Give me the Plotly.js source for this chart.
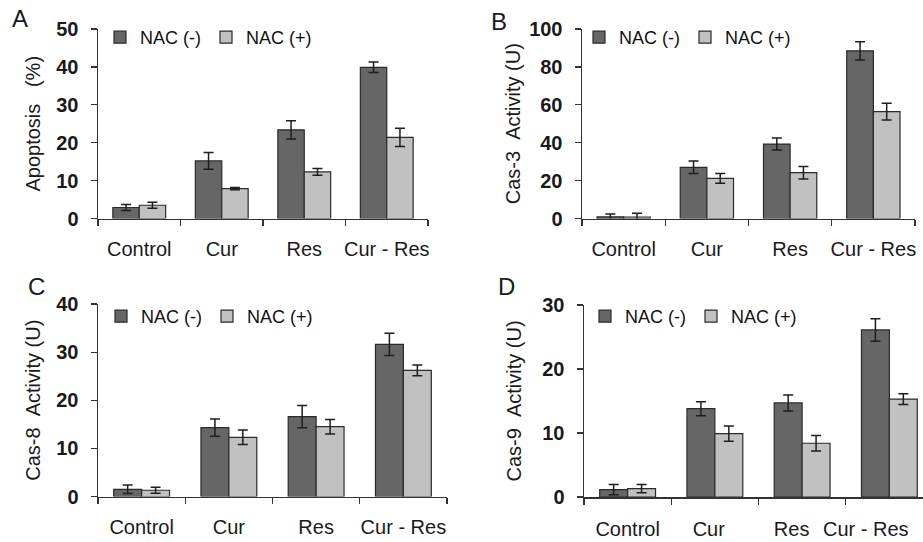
<!DOCTYPE html>
<html>
<head>
<meta charset="utf-8">
<script src="https://cdn.plot.ly/plotly-3.0.1.min.js"></script>
<style>html,body{margin:0;padding:0;background:#fff;}#chart{width:923px;height:542px;}</style>
</head>
<body>
<div id="chart"></div>
<script>
// ---- data ----
const categories = ['Control', 'Cur', 'Res', 'Cur - Res'];
const seriesNames = ['NAC (-)', 'NAC (+)'];

const apoptosisMinus = [2.9, 15.2, 23.4, 39.9];
const apoptosisMinusErr = [0.8, 2.2, 2.4, 1.4];
const apoptosisPlus = [3.5, 7.9, 12.3, 21.4];
const apoptosisPlusErr = [0.8, 0.3, 0.9, 2.4];

const cas3Minus = [0.9, 27.0, 39.3, 88.5];
const cas3MinusErr = [1.5, 3.3, 3.2, 4.8];
const cas3Plus = [0.8, 21.2, 24.2, 56.4];
const cas3PlusErr = [2.0, 2.6, 3.3, 4.4];

const cas8Minus = [1.5, 14.3, 16.6, 31.6];
const cas8MinusErr = [0.9, 1.8, 2.3, 2.3];
const cas8Plus = [1.3, 12.3, 14.5, 26.2];
const cas8PlusErr = [0.6, 1.5, 1.5, 1.1];

const cas9Minus = [1.15, 13.8, 14.7, 26.1];
const cas9MinusErr = [0.8, 1.1, 1.25, 1.75];
const cas9Plus = [1.3, 9.9, 8.4, 15.3];
const cas9PlusErr = [0.65, 1.2, 1.2, 0.85];

const panelLetters = ['A', 'B', 'C', 'D'];
const yTitles = ['Apoptosis\u00a0\u00a0\u00a0(%)', 'Cas-3\u00a0\u00a0Activity (U)', 'Cas-8\u00a0\u00a0Activity (U)', 'Cas-9\u00a0\u00a0Activity (U)'];
const yRanges = [[0, 50], [0, 100], [0, 40], [0, 30]];
const yDticks = [10, 20, 10, 10];
// in panel D (cropped at the right edge) the labels sit left of the category centres
const labelSlotsD = [0, 0.93, 1.88, 2.73];

// ---- layout helpers ----
const W = 923, H = 542;
const px = v => v / W;
const py = v => 1 - v / H;
const darkColor = '#666666', lightColor = '#c1c1c1', edge = '#2b2b2b';

const panels = [
  {minus: apoptosisMinus, minusErr: apoptosisMinusErr, plus: apoptosisPlus, plusErr: apoptosisPlusErr},
  {minus: cas3Minus, minusErr: cas3MinusErr, plus: cas3Plus, plusErr: cas3PlusErr},
  {minus: cas8Minus, minusErr: cas8MinusErr, plus: cas8Plus, plusErr: cas8PlusErr},
  {minus: cas9Minus, minusErr: cas9MinusErr, plus: cas9Plus, plusErr: cas9PlusErr}
];
// pixel frames: [xLeft, xRight, yTop, yBottom]
const frames = [
  [98, 428, 29, 218.5],
  [582, 915, 29, 218.5],
  [98, 447, 304, 496.5],
  [584, 923, 305, 497]
];
const xRangeEnds = [3.5, 3.5, 3.5, -0.5 + 339 / 87.25];
const titleStandoffs = [10, 3, 10, 15];
const legendPos = [[100, 19], [579, 19], [101, 298], [585, 298]];
const letterPos = [[20, 19], [499, 21], [36, 286], [506, 286]];

const FONT = 'Liberation Sans, Arial, sans-serif';
const tickFontX = {family: FONT, size: 20, color: '#1a1a1a'};
const traces = [];
const layout = {
  width: W, height: H,
  margin: {l: 0, r: 0, t: 0, b: 0},
  paper_bgcolor: '#fff', plot_bgcolor: '#fff',
  barmode: 'group', bargap: 0.36, bargroupgap: 0,
  font: {family: FONT, color: '#1a1a1a'},
  annotations: []
};

panels.forEach((p, i) => {
  const n = i === 0 ? '' : String(i + 1);
  const xa = 'x' + n, ya = 'y' + n;
  const lg = 'legend' + n;
  const errStyle = {type: 'data', visible: true, color: '#1e1e1e', thickness: 1.5, width: 5};
  traces.push({
    type: 'bar', name: seriesNames[0], x: categories, y: p.minus,
    xaxis: xa, yaxis: ya, legend: lg,
    marker: {color: darkColor, line: {color: edge, width: 1.2}},
    error_y: Object.assign({array: p.minusErr}, errStyle)
  });
  traces.push({
    type: 'bar', name: seriesNames[1], x: categories, y: p.plus,
    xaxis: xa, yaxis: ya, legend: lg,
    marker: {color: lightColor, line: {color: edge, width: 1.2}},
    error_y: Object.assign({array: p.plusErr}, errStyle)
  });
  const f = frames[i];
  layout['xaxis' + n] = {
    domain: [px(f[0]), px(f[1])], anchor: ya,
    type: 'category', range: [-0.5, xRangeEnds[i]],
    showline: true, linecolor: '#333', linewidth: 1.5,
    ticks: 'outside', tickson: 'boundaries', ticklen: 6, tickcolor: '#333', tickwidth: 1.2,
    ticklabelstandoff: 12, tickangle: 0, showticklabels: i !== 3,
    tickfont: tickFontX,
    showgrid: false, zeroline: false, fixedrange: true
  };
  layout['yaxis' + n] = {
    domain: [py(f[3]), py(f[2])], anchor: xa,
    range: yRanges[i], dtick: yDticks[i], tick0: 0,
    showline: true, linecolor: '#333', linewidth: 1.5,
    ticks: 'outside', ticklen: 6, tickcolor: '#333', tickwidth: 1.2,
    ticklabelstandoff: 8,
    tickfont: {family: FONT, size: 20, color: '#1a1a1a', weight: 'bold'},
    showgrid: false, zeroline: false, fixedrange: true,
    title: {text: yTitles[i], font: {family: FONT, size: 20, color: '#1a1a1a'}, standoff: titleStandoffs[i]}
  };
  const lp = legendPos[i];
  layout[lg] = {
    orientation: 'h', x: px(lp[0]), y: py(lp[1]), xanchor: 'left', yanchor: 'top',
    xref: 'paper', yref: 'paper',
    bgcolor: 'rgba(0,0,0,0)', borderwidth: 0,
    font: {family: FONT, size: 18, color: '#111'},
    itemwidth: 30, traceorder: 'normal'
  };
  const lt = letterPos[i];
  layout.annotations.push({
    text: panelLetters[i], xref: 'paper', yref: 'paper',
    x: px(lt[0]), y: py(lt[1]), xanchor: 'center', yanchor: 'middle',
    showarrow: false, font: {family: FONT, size: 24, color: '#1a1a1a'}
  });
});

// label axis for panel D, sharing the scale of x4 (an invisible helper trace makes Plotly draw it)
traces.push({
  type: 'scatter', mode: 'none', x: labelSlotsD, y: labelSlotsD.map(() => 0),
  xaxis: 'x5', yaxis: 'y4', showlegend: false, hoverinfo: 'skip'
});
layout.xaxis5 = {
  overlaying: 'x4', anchor: 'y4', side: 'bottom', type: 'linear',
  range: [-0.5, xRangeEnds[3]],
  tickmode: 'array', tickvals: labelSlotsD, ticktext: categories,
  showline: false, ticks: '', ticklen: 0, ticklabelstandoff: 18, tickangle: 0,
  tickfont: tickFontX, showgrid: false, zeroline: false, fixedrange: true
};

Plotly.newPlot('chart', traces, layout, {displayModeBar: false, staticPlot: true});
</script>
</body>
</html>
